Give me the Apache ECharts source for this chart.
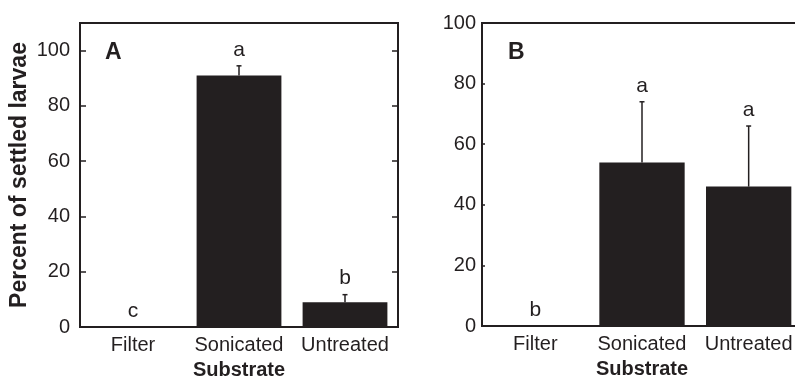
<!DOCTYPE html>
<html>
<head>
<meta charset="utf-8">
<script src="https://cdn.jsdelivr.net/npm/echarts@6/dist/echarts.min.js"></script>
<style>
  html, body { margin: 0; padding: 0; background: #fff; }
  #chart { width: 795px; height: 380px; }
</style>
</head>
<body>
<div id="chart"></div>
<script>
var categories = ['Filter', 'Sonicated', 'Untreated'];

// Panel A
var meanA = [0, 91, 9];
var errA = [0, 3.5, 2.7];
var lettersA = ['c', 'a', 'b'];

// Panel B
var meanB = [0, 54, 46];
var errB = [0, 20, 20];
var lettersB = ['b', 'a', 'a'];

var ink = '#231f20';
var font = '"Liberation Sans", Arial, Helvetica, sans-serif';

function errorSeries(idx, means, errs, letters) {
    return {
        type: 'custom',
        xAxisIndex: idx,
        yAxisIndex: idx,
        z: 5,
        data: means.map(function (m, i) { return [i, m, errs[i]]; }),
        renderItem: function (params, api) {
            var i = api.value(0);
            var base = api.coord([i, api.value(1)]);
            var top = api.coord([i, api.value(1) + api.value(2)]);
            var children = [];
            if (api.value(2) > 0) {
                children.push({
                    type: 'line',
                    shape: { x1: base[0], y1: base[1], x2: top[0], y2: top[1] },
                    style: { stroke: ink, lineWidth: 1.5 }
                });
                children.push({
                    type: 'line',
                    shape: { x1: top[0] - 2.5, y1: top[1], x2: top[0] + 2.5, y2: top[1] },
                    style: { stroke: ink, lineWidth: 1.5 }
                });
            }
            children.push({
                type: 'text',
                style: {
                    x: top[0], y: top[1] - 16,
                    text: letters[i],
                    fill: ink,
                    font: '21px ' + font,
                    align: 'center',
                    verticalAlign: 'middle'
                }
            });
            return { type: 'group', children: children };
        }
    };
}

var chart = echarts.init(document.getElementById('chart'));

var xAxisBase = function (gi) {
    return {
        gridIndex: gi, type: 'category', data: categories,
        axisLine: { lineStyle: { color: ink, width: 2 } },
        axisTick: { show: false },
        axisLabel: { color: ink, fontSize: 20, margin: 8, interval: 0, fontFamily: font },
        name: 'Substrate', nameLocation: 'middle', nameGap: 33,
        nameTextStyle: { color: ink, fontSize: 20, fontWeight: 'bold', fontFamily: font }
    };
};

var option = {
    animation: false,
    backgroundColor: '#fff',
    textStyle: { fontFamily: font },
    title: [
        { text: 'A', left: 100, top: 36, textStyle: { fontSize: 23, fontWeight: 'bold', color: ink, fontFamily: font } },
        { text: 'B', left: 503, top: 36, textStyle: { fontSize: 23, fontWeight: 'bold', color: ink, fontFamily: font } }
    ],
    grid: [
        { left: 80, top: 23, width: 318, height: 304, show: true, borderColor: ink, borderWidth: 2, outerBoundsMode: 'none', containLabel: false },
        { left: 482, top: 23, width: 320, height: 303, show: true, borderColor: ink, borderWidth: 2, outerBoundsMode: 'none', containLabel: false }
    ],
    xAxis: [xAxisBase(0), xAxisBase(1)],
    yAxis: [
        {
            gridIndex: 0, type: 'value', min: 0, max: 110, interval: 20,
            axisLine: { show: true, lineStyle: { color: ink, width: 2 } },
            axisTick: { show: true, inside: true, length: 6, lineStyle: { color: ink, width: 1.5 } },
            axisLabel: { color: ink, fontSize: 20, margin: 10, fontFamily: font,
                formatter: function (v) { return v > 100 ? '' : v; } },
            splitLine: { show: false },
            name: 'Percent of settled larvae', nameLocation: 'middle', nameGap: 49,
            nameTextStyle: { color: ink, fontSize: 23, fontWeight: 'bold', fontFamily: font }
        },
        {
            gridIndex: 1, type: 'value', min: 0, max: 100, interval: 20,
            axisLine: { show: true, lineStyle: { color: ink, width: 2 } },
            axisTick: { show: true, inside: true, length: 3, lineStyle: { color: ink, width: 1.5 } },
            axisLabel: { color: ink, fontSize: 20, margin: 6, fontFamily: font },
            splitLine: { show: false }
        },
        {
            gridIndex: 0, type: 'value', min: 0, max: 110, interval: 20, position: 'right',
            axisLine: { show: true, lineStyle: { color: ink, width: 2 } },
            axisTick: { show: true, inside: true, length: 6, lineStyle: { color: ink, width: 1.5 } },
            axisLabel: { show: false },
            splitLine: { show: false }
        }
    ],
    series: [
        {
            type: 'bar', xAxisIndex: 0, yAxisIndex: 0, data: meanA,
            barCategoryGap: '20%', itemStyle: { color: ink }
        },
        {
            type: 'bar', xAxisIndex: 1, yAxisIndex: 1, data: meanB,
            barCategoryGap: '20%', itemStyle: { color: ink }
        },
        errorSeries(0, meanA, errA, lettersA),
        errorSeries(1, meanB, errB, lettersB)
    ]
};

chart.setOption(option);
</script>
</body>
</html>
